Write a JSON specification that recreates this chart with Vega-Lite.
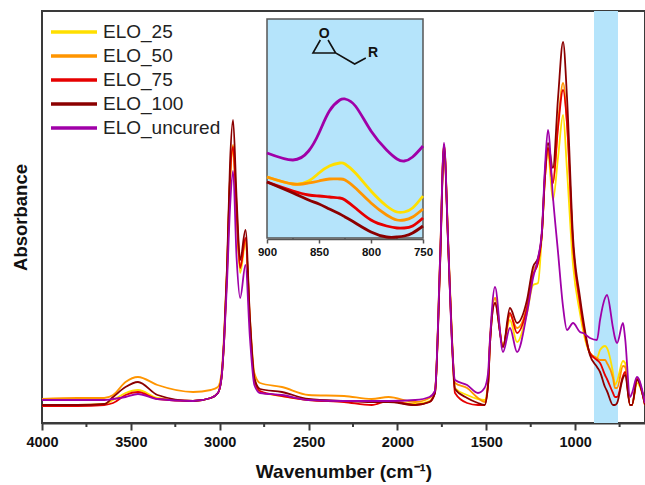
{
"$schema":"https://vega.github.io/schema/vega-lite/v6.json",
"width":603,"height":412,
"autosize":{"type":"none"},
"padding":{"left":42,"top":11,"right":0,"bottom":62},
"background":"white",
"config":{"font":"Liberation Sans","view":{"stroke":"#3a3a3a","strokeWidth":2},"axis":{"grid":false}},
"datasets":{
"spectrum":[
{"w":4000,"ELO_25":18,"ELO_50":24,"ELO_75":17,"ELO_100":18,"ELO_uncured":23},
{"w":3800,"ELO_25":18,"ELO_50":25,"ELO_75":17,"ELO_100":18,"ELO_uncured":23},
{"w":3650,"ELO_25":19,"ELO_50":25,"ELO_75":18,"ELO_100":19,"ELO_uncured":23},
{"w":3600,"ELO_25":23,"ELO_50":28,"ELO_75":20,"ELO_100":26,"ELO_uncured":24},
{"w":3530,"ELO_25":30,"ELO_50":41,"ELO_75":28,"ELO_100":36,"ELO_uncured":26},
{"w":3460,"ELO_25":33,"ELO_50":46,"ELO_75":31,"ELO_100":41,"ELO_uncured":29},
{"w":3350,"ELO_25":25,"ELO_50":38,"ELO_75":24,"ELO_100":28,"ELO_uncured":24},
{"w":3150,"ELO_25":22,"ELO_50":31,"ELO_75":22,"ELO_100":22,"ELO_uncured":22},
{"w":3050,"ELO_25":25,"ELO_50":33,"ELO_75":25,"ELO_100":25,"ELO_uncured":25},
{"w":3010,"ELO_25":30,"ELO_50":36,"ELO_75":30,"ELO_100":30,"ELO_uncured":30},
{"w":2990,"ELO_25":45,"ELO_50":50,"ELO_75":45,"ELO_100":45,"ELO_uncured":45},
{"w":2975,"ELO_25":83,"ELO_50":90,"ELO_75":83,"ELO_100":85,"ELO_uncured":83},
{"w":2959,"ELO_25":150,"ELO_50":155,"ELO_75":150,"ELO_100":155,"ELO_uncured":140},
{"w":2942,"ELO_25":240,"ELO_50":245,"ELO_75":245,"ELO_100":260,"ELO_uncured":215},
{"w":2925,"ELO_25":273,"ELO_50":278,"ELO_75":276,"ELO_100":303,"ELO_uncured":252},
{"w":2905,"ELO_25":205,"ELO_50":215,"ELO_75":210,"ELO_100":225,"ELO_uncured":165},
{"w":2885,"ELO_25":150,"ELO_50":155,"ELO_75":155,"ELO_100":163,"ELO_uncured":125},
{"w":2855,"ELO_25":180,"ELO_50":183,"ELO_75":185,"ELO_100":193,"ELO_uncured":158},
{"w":2830,"ELO_25":100,"ELO_50":105,"ELO_75":100,"ELO_100":105,"ELO_uncured":85},
{"w":2805,"ELO_25":45,"ELO_50":50,"ELO_75":43,"ELO_100":45,"ELO_uncured":38},
{"w":2773,"ELO_25":31,"ELO_50":40,"ELO_75":32,"ELO_100":34,"ELO_uncured":30},
{"w":2650,"ELO_25":27,"ELO_50":36,"ELO_75":27,"ELO_100":31,"ELO_uncured":28},
{"w":2500,"ELO_25":23,"ELO_50":28,"ELO_75":23,"ELO_100":24,"ELO_uncured":23},
{"w":2300,"ELO_25":22,"ELO_50":27,"ELO_75":21,"ELO_100":22,"ELO_uncured":22},
{"w":2145,"ELO_25":22,"ELO_50":24,"ELO_75":18,"ELO_100":21,"ELO_uncured":22},
{"w":2050,"ELO_25":22,"ELO_50":26,"ELO_75":22,"ELO_100":21,"ELO_uncured":22},
{"w":1900,"ELO_25":19,"ELO_50":21,"ELO_75":18,"ELO_100":18,"ELO_uncured":23},
{"w":1820,"ELO_25":22,"ELO_50":25,"ELO_75":21,"ELO_100":21,"ELO_uncured":26},
{"w":1789,"ELO_25":30,"ELO_50":32,"ELO_75":30,"ELO_100":30,"ELO_uncured":32},
{"w":1760,"ELO_25":163,"ELO_50":165,"ELO_75":160,"ELO_100":158,"ELO_uncured":165},
{"w":1738,"ELO_25":278,"ELO_50":278,"ELO_75":278,"ELO_100":275,"ELO_uncured":280},
{"w":1715,"ELO_25":183,"ELO_50":185,"ELO_75":180,"ELO_100":180,"ELO_uncured":183},
{"w":1693,"ELO_25":83,"ELO_50":85,"ELO_75":80,"ELO_100":83,"ELO_uncured":80},
{"w":1676,"ELO_25":35,"ELO_50":40,"ELO_75":30,"ELO_100":34,"ELO_uncured":43},
{"w":1608,"ELO_25":28,"ELO_50":35,"ELO_75":20,"ELO_100":25,"ELO_uncured":38},
{"w":1547,"ELO_25":24,"ELO_50":25,"ELO_75":18,"ELO_100":20,"ELO_uncured":30},
{"w":1510,"ELO_25":23,"ELO_50":21,"ELO_75":18,"ELO_100":18,"ELO_uncured":35},
{"w":1490,"ELO_25":40,"ELO_50":40,"ELO_75":38,"ELO_100":38,"ELO_uncured":50},
{"w":1479,"ELO_25":83,"ELO_50":83,"ELO_75":80,"ELO_100":80,"ELO_uncured":85},
{"w":1451,"ELO_25":125,"ELO_50":125,"ELO_75":120,"ELO_100":120,"ELO_uncured":136},
{"w":1406,"ELO_25":77,"ELO_50":77,"ELO_75":76,"ELO_100":76,"ELO_uncured":71},
{"w":1367,"ELO_25":103,"ELO_50":108,"ELO_75":110,"ELO_100":115,"ELO_uncured":95},
{"w":1327,"ELO_25":81,"ELO_50":95,"ELO_75":90,"ELO_100":100,"ELO_uncured":71},
{"w":1271,"ELO_25":110,"ELO_50":117,"ELO_75":115,"ELO_100":123,"ELO_uncured":110},
{"w":1237,"ELO_25":138,"ELO_50":153,"ELO_75":148,"ELO_100":156,"ELO_uncured":145},
{"w":1209,"ELO_25":140,"ELO_50":160,"ELO_75":160,"ELO_100":165,"ELO_uncured":165},
{"w":1187,"ELO_25":190,"ELO_50":190,"ELO_75":190,"ELO_100":190,"ELO_uncured":193},
{"w":1170,"ELO_25":245,"ELO_50":245,"ELO_75":245,"ELO_100":250,"ELO_uncured":255},
{"w":1153,"ELO_25":270,"ELO_50":275,"ELO_75":275,"ELO_100":280,"ELO_uncured":293},
{"w":1125,"ELO_25":223,"ELO_50":240,"ELO_75":240,"ELO_100":255,"ELO_uncured":226},
{"w":1096,"ELO_25":266,"ELO_50":300,"ELO_75":296,"ELO_100":326,"ELO_uncured":170},
{"w":1068,"ELO_25":308,"ELO_50":340,"ELO_75":333,"ELO_100":381,"ELO_uncured":116},
{"w":1046,"ELO_25":253,"ELO_50":300,"ELO_75":300,"ELO_100":326,"ELO_uncured":93},
{"w":1012,"ELO_25":158,"ELO_50":178,"ELO_75":178,"ELO_100":186,"ELO_uncured":100},
{"w":973,"ELO_25":110,"ELO_50":120,"ELO_75":120,"ELO_100":126,"ELO_uncured":91},
{"w":956,"ELO_25":93,"ELO_50":100,"ELO_75":100,"ELO_100":105,"ELO_uncured":90},
{"w":917,"ELO_25":70,"ELO_50":70,"ELO_75":70,"ELO_100":68,"ELO_uncured":85},
{"w":877,"ELO_25":65,"ELO_50":65,"ELO_75":63,"ELO_100":56,"ELO_uncured":83},
{"w":860,"ELO_25":73,"ELO_50":63,"ELO_75":60,"ELO_100":51,"ELO_uncured":103},
{"w":832,"ELO_25":77,"ELO_50":63,"ELO_75":48,"ELO_100":36,"ELO_uncured":125},
{"w":821,"ELO_25":75,"ELO_50":60,"ELO_75":44,"ELO_100":32,"ELO_uncured":128},
{"w":787,"ELO_25":50,"ELO_50":45,"ELO_75":30,"ELO_100":18,"ELO_uncured":95},
{"w":776,"ELO_25":38,"ELO_50":35,"ELO_75":26,"ELO_100":18,"ELO_uncured":85},
{"w":764,"ELO_25":42,"ELO_50":35,"ELO_75":26,"ELO_100":20,"ELO_uncured":80},
{"w":731,"ELO_25":62,"ELO_50":57,"ELO_75":47,"ELO_100":45,"ELO_uncured":100},
{"w":719,"ELO_25":60,"ELO_50":56,"ELO_75":51,"ELO_100":48,"ELO_uncured":85},
{"w":691,"ELO_25":18,"ELO_50":18,"ELO_75":18,"ELO_100":18,"ELO_uncured":26},
{"w":680,"ELO_25":18,"ELO_50":18,"ELO_75":18,"ELO_100":18,"ELO_uncured":30},
{"w":652,"ELO_25":40,"ELO_50":44,"ELO_75":44,"ELO_100":43,"ELO_uncured":46},
{"w":607,"ELO_25":20,"ELO_50":18,"ELO_75":18,"ELO_100":18,"ELO_uncured":20}
],
"zoomed":[
{"w":900,"ELO_25":61,"ELO_50":61,"ELO_75":56,"ELO_100":56,"ELO_uncured":85},
{"w":875,"ELO_25":54,"ELO_50":54,"ELO_75":47,"ELO_100":45,"ELO_uncured":78},
{"w":860,"ELO_25":57,"ELO_50":55,"ELO_75":43,"ELO_100":38,"ELO_uncured":87},
{"w":850,"ELO_25":65,"ELO_50":57,"ELO_75":42,"ELO_100":34,"ELO_uncured":105},
{"w":840,"ELO_25":72,"ELO_50":59,"ELO_75":41,"ELO_100":29,"ELO_uncured":127},
{"w":830,"ELO_25":75,"ELO_50":59,"ELO_75":40,"ELO_100":24,"ELO_uncured":138},
{"w":825,"ELO_25":74,"ELO_50":58,"ELO_75":38,"ELO_100":21,"ELO_uncured":139},
{"w":815,"ELO_25":65,"ELO_50":50,"ELO_75":30,"ELO_100":15,"ELO_uncured":132},
{"w":800,"ELO_25":47,"ELO_50":35,"ELO_75":18,"ELO_100":6,"ELO_uncured":107},
{"w":785,"ELO_25":32,"ELO_50":23,"ELO_75":12,"ELO_100":1,"ELO_uncured":88},
{"w":775,"ELO_25":26,"ELO_50":18,"ELO_75":10,"ELO_100":1,"ELO_uncured":79},
{"w":768,"ELO_25":26,"ELO_50":18,"ELO_75":10,"ELO_100":2,"ELO_uncured":77},
{"w":760,"ELO_25":30,"ELO_50":21,"ELO_75":12,"ELO_100":5,"ELO_uncured":81},
{"w":750,"ELO_25":42,"ELO_50":29,"ELO_75":20,"ELO_100":12,"ELO_uncured":92}
],
"molecule":[
{"i":1,"w":848.7,"a":198},
{"i":2,"w":855.8,"a":185},
{"i":3,"w":834,"a":185},
{"i":4,"w":841.3,"a":198},
{"i":5,"w":834,"a":185},
{"i":6,"w":815.7,"a":174},
{"i":7,"w":805,"a":180}
],
"atoms":[{"w":845,"a":204,"t":"O"},{"w":798,"a":185,"t":"R"}]
},
"layer":[
{
"layer":[
{"data":{"values":[{"from":894,"to":759,"low":0,"high":412}]},
 "mark":{"type":"rect","color":"#b5e4fb"},
 "encoding":{
  "x":{"field":"from","type":"quantitative"},"x2":{"field":"to"},
  "y":{"field":"low","type":"quantitative"},"y2":{"field":"high"}}},
{"data":{"values":[{"w":3750,"low":-4,"high":0},{"w":3250,"low":-4,"high":0},{"w":2750,"low":-4,"high":0},{"w":2250,"low":-4,"high":0},{"w":1750,"low":-4,"high":0},{"w":1250,"low":-4,"high":0},{"w":750,"low":-4,"high":0}]},
 "mark":{"type":"rule","color":"#3a3a3a","strokeWidth":2},
 "encoding":{
  "x":{"field":"w","type":"quantitative"},
  "y":{"field":"low","type":"quantitative"},"y2":{"field":"high"}}},
{"data":{"name":"spectrum"},
 "transform":[{"fold":["ELO_25","ELO_50","ELO_75","ELO_100","ELO_uncured"],"as":["series","absorbance"]}],
 "mark":{"type":"line","strokeWidth":1.8,"interpolate":"monotone"},
 "encoding":{
  "x":{"field":"w","type":"quantitative",
   "scale":{"domain":[4000,607],"nice":false,"zero":false},
   "axis":{"title":"Wavenumber (cm⁻¹)","titleFontSize":19,"titleFontWeight":"bold","titleColor":"#111","titlePadding":14,
    "values":[4000,3500,3000,2500,2000,1500,1000],
    "format":"d","labelFontSize":14.5,"labelFontWeight":"bold","labelColor":"#111","labelPadding":5,"labelOverlap":false,"labelBound":false,"labelFlush":false,
    "grid":false,"domainColor":"#3a3a3a","domainWidth":2,"tickColor":"#3a3a3a","tickWidth":2,"tickSize":7}},
  "y":{"field":"absorbance","type":"quantitative",
   "scale":{"domain":[0,412],"nice":false},
   "axis":{"title":"Absorbance","titleFontSize":18.5,"titleFontWeight":"bold","titleColor":"#111","titlePadding":12,"labels":false,"ticks":false,"grid":false,"domain":false}},
  "color":{"field":"series","type":"nominal",
   "scale":{"domain":["ELO_25","ELO_50","ELO_75","ELO_100","ELO_uncured"],"range":["#ffdf00","#ff9500","#e60000","#8b0000","#a000a8"]},
   "legend":{"title":null,"orient":"none","legendX":18.5,"legendY":7.5,"symbolType":"M-2,0H2","symbolSize":529,"symbolStrokeWidth":3.5,"labelFontSize":19,"labelColor":"#222","labelOffset":15.5,"rowPadding":-1,"padding":0}},
  "order":{"field":"w","sort":"descending"}}}
]},
{
"layer":[
{"data":{"values":[{"from":900,"to":750,"low":0,"high":219}]},
 "mark":{"type":"rect","color":"#b5e4fb","stroke":"#555","strokeWidth":1.5},
 "encoding":{
  "x":{"field":"from","type":"quantitative"},"x2":{"field":"to"},
  "y":{"field":"low","type":"quantitative","axis":null},"y2":{"field":"high"}}},
{"data":{"values":[{"w":875,"low":-2,"high":0},{"w":825,"low":-2,"high":0},{"w":775,"low":-2,"high":0}]},
 "mark":{"type":"rule","color":"#555","strokeWidth":1.5},
 "encoding":{
  "x":{"field":"w","type":"quantitative"},
  "y":{"field":"low","type":"quantitative","axis":null},"y2":{"field":"high"}}},
{"data":{"name":"zoomed"},
 "transform":[{"fold":["ELO_25","ELO_50","ELO_75","ELO_100","ELO_uncured"],"as":["series","absorbance"]}],
 "mark":{"type":"line","strokeWidth":2.8,"interpolate":"natural"},
 "encoding":{
  "x":{"field":"w","type":"quantitative",
   "scale":{"domain":[900,750],"range":[225,381],"nice":false,"zero":false},
   "axis":{"orient":"bottom","offset":-184,"title":"",
    "values":[900,850,800,750],
    "format":"d","labelFontSize":11.5,"labelFontWeight":"bold","labelColor":"#111","labelPadding":3,"labelOverlap":false,"labelBound":false,"labelFlush":false,
    "grid":false,"domainColor":"#555","domainWidth":1.5,"tickColor":"#555","tickWidth":1.5,"tickSize":4}},
  "y":{"field":"absorbance","type":"quantitative",
   "scale":{"domain":[0,219],"range":[227,8],"nice":false},"axis":null},
  "color":{"field":"series","type":"nominal",
   "scale":{"domain":["ELO_25","ELO_50","ELO_75","ELO_100","ELO_uncured"],"range":["#ffdf00","#ff9500","#e60000","#8b0000","#a000a8"]},
   "legend":null},
  "order":{"field":"w","sort":"descending"}}},
{"data":{"name":"molecule"},
 "mark":{"type":"line","color":"#111","strokeWidth":1.6},
 "encoding":{
  "x":{"field":"w","type":"quantitative"},
  "y":{"field":"a","type":"quantitative","axis":null},
  "order":{"field":"i"}}},
{"data":{"name":"atoms"},
 "mark":{"type":"text","fontWeight":"bold","fontSize":14,"color":"#111"},
 "encoding":{
  "x":{"field":"w","type":"quantitative"},
  "y":{"field":"a","type":"quantitative","axis":null},
  "text":{"field":"t"}}}
]}
],
"resolve":{"scale":{"x":"independent","y":"independent"}}
}
